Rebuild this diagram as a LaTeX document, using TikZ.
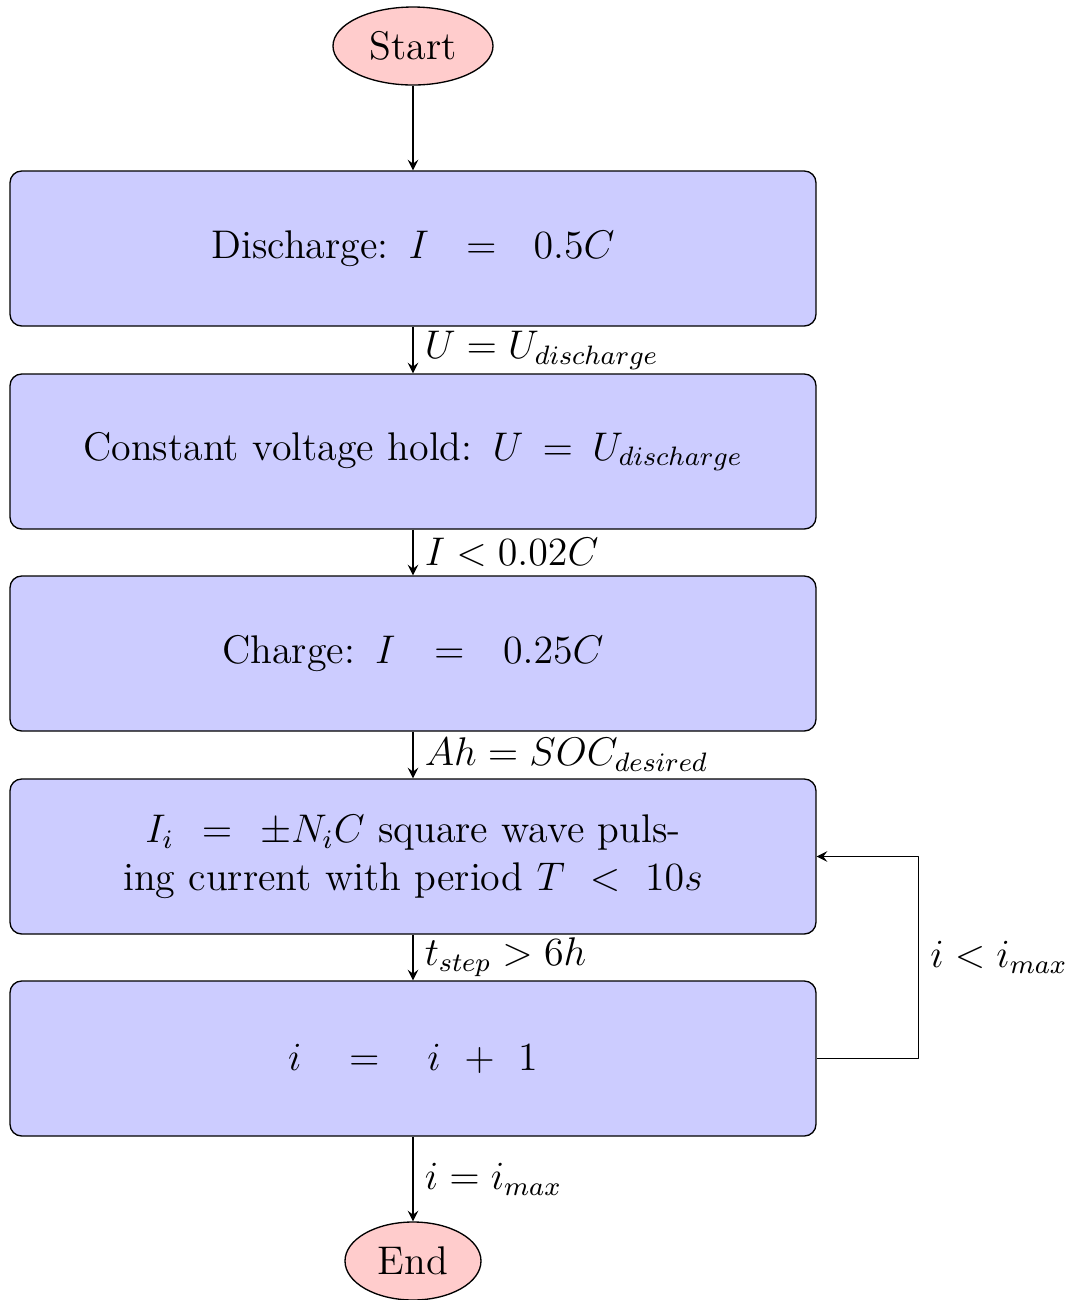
\documentclass[tikz,border=0pt]{standalone}
\usetikzlibrary{shapes.geometric}
\begin{document}
\begin{tikzpicture}[x=0.3pt, y=-0.3pt, font=\fontsize{12}{14.4}\selectfont, line join=round, >=stealth,
  term/.style={ellipse, draw, fill=red!20, minimum height=23.4pt, inner sep=0pt},
  stepbox/.style={rectangle, rounded corners=3.5pt, draw, fill=blue!20, minimum width=241.8pt, minimum height=46.5pt, text width=233pt, align=center}]
\useasboundingbox (0,0) rectangle (1077,1300);
\def\xc{413}
\node[term, minimum width=48pt] (start) at (\xc,46) {Start};
\node[stepbox] (dis) at (\xc,248.5) {Discharge: $I = 0.5C$};
\node[stepbox] (cv) at (\xc,451.5) {Constant voltage hold: $U = U_{discharge}$};
\node[stepbox] (chg) at (\xc,653.5) {Charge: $I = 0.25C$};
\node[stepbox] (pulse) at (\xc,856.5) {$I_i = \pm N_iC$ square wave pulsing current with period $T < 10s$};
\node[stepbox] (inc) at (\xc,1058.5) {$i = i + 1$};
\node[term, minimum width=40.8pt] (end) at (\xc,1261) {End};
% main flow
\draw[->] (start) -- (dis);
\draw[->] (dis) -- node[right]{$U=U_{discharge}$} (cv);
\draw[->] (cv) -- node[right]{$I<0.02C$} (chg);
\draw[->] (chg) -- node[right]{$Ah=SOC_{desired}$} (pulse);
\draw[->] (pulse) -- node[right]{$t_{step}>6h$} (inc);
\draw[->] (inc) -- node[right]{$i=i_{max}$} (end);
% loop back
\draw[->] (inc.east) -- ++(102,0) |- node[pos=0.25,right]{$i<i_{max}$} (pulse.east);
\end{tikzpicture}
\end{document}
